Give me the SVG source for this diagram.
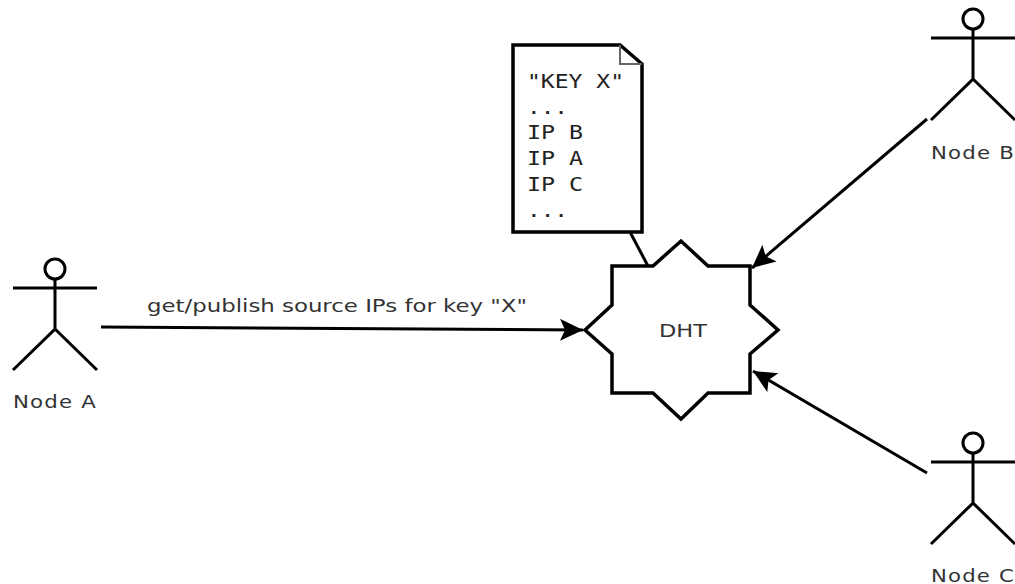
<svg xmlns="http://www.w3.org/2000/svg" width="1015" height="584" viewBox="0 0 1015 584">
<style>
.o{fill:none;stroke:#000;stroke-width:3}
.h{fill:#fff;stroke:#000;stroke-width:3}
.c{fill:none;stroke:#000;stroke-width:3}
.s{fill:#fff;stroke:#000;stroke-width:3.5}
.t{font-family:"DejaVu Sans",sans-serif;font-size:18px;fill:#333}
.n{font-family:"DejaVu Sans",sans-serif;font-size:18px;letter-spacing:1px;fill:#333}
.m{font-family:"DejaVu Sans Mono",monospace;font-size:19.5px;fill:#222}
</style>
<defs>
<marker id="a" markerUnits="userSpaceOnUse" markerWidth="24" markerHeight="24" refX="23" refY="11" orient="auto" viewBox="0 0 24 24">
<path d="M23 11L0 0L5 11L0 22Z" fill="#000"/>
</marker>
<g id="actor"><circle cx="0" cy="0" r="10" class="h"/><path class="o" d="M-42 19H42M0 10V60L-42 101M0 60L42 101"/></g>
</defs>
<g id="connectors">
<path class="c" d="M630 232L648 266"/>
<path class="c" d="M101 327L583 330" marker-end="url(#a)"/>
<path class="c" d="M927 119L752 268" marker-end="url(#a)"/>
<path class="c" d="M927 473L753 371" marker-end="url(#a)"/>
</g>
<g id="note">
<path class="s" d="M513 45H620L642 64V232H513Z"/>
<path d="M620 45V64H642" fill="none" stroke="#666" stroke-width="2"/>
<text class="m" xml:space="preserve" x="527" y="88" textLength="97" lengthAdjust="spacingAndGlyphs">"KEY X"</text>
<text class="m" x="527" y="114" textLength="41" lengthAdjust="spacingAndGlyphs">...</text>
<text class="m" x="527" y="139" textLength="56" lengthAdjust="spacingAndGlyphs">IP B</text>
<text class="m" x="527" y="165" textLength="56" lengthAdjust="spacingAndGlyphs">IP A</text>
<text class="m" x="527" y="191" textLength="56" lengthAdjust="spacingAndGlyphs">IP C</text>
<text class="m" x="527" y="217" textLength="41" lengthAdjust="spacingAndGlyphs">...</text>
</g>
<g id="dht">
<path class="s" d="M585 330L612 305V266H653L681 241L708 266H750V305L778 330L750 354V393H708L681 419L653 393H612V354Z"/>
<text class="t" x="659" y="337" textLength="48" lengthAdjust="spacingAndGlyphs">DHT</text>
</g>
<g id="nodeA"><use href="#actor" x="55" y="269"/><text class="n" x="13" y="408" textLength="84" lengthAdjust="spacingAndGlyphs">Node A</text></g>
<g id="nodeB"><use href="#actor" x="973" y="19"/><text class="n" x="931" y="159" textLength="84" lengthAdjust="spacingAndGlyphs">Node B</text></g>
<g id="nodeC"><use href="#actor" x="973" y="443"/><text class="n" x="931" y="582" textLength="84" lengthAdjust="spacingAndGlyphs">Node C</text></g>
<text class="t" x="147" y="312" id="label" textLength="380" lengthAdjust="spacingAndGlyphs">get/publish source IPs for key "X"</text>
</svg>
